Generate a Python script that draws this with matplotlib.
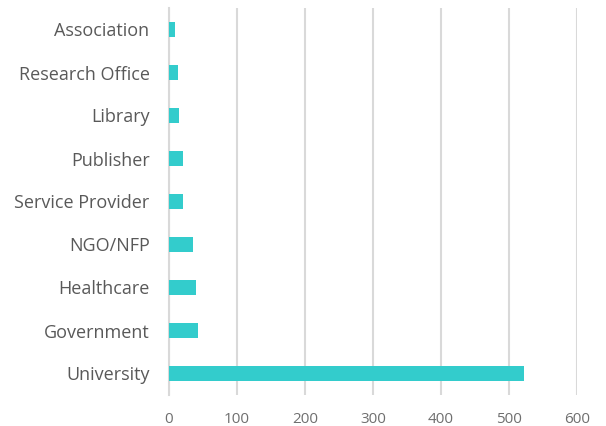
import numpy as np
import matplotlib.pyplot as plt

plt.rcParams['font.family'] = ['Open Sans', 'DejaVu Sans']

categories = ["University", "Government", "Healthcare", "NGO/NFP", "Service Provider",
              "Publisher", "Library", "Research Office", "Association"]
counts = [522, 42, 40, 36, 21, 20, 15, 13, 9]
xticks = [0, 100, 200, 300, 400, 500, 600]

fig = plt.figure(figsize=(6.06, 4.26), dpi=100)
ax = fig.add_axes([169/606, 1 - 395/426, (577 - 169)/606, (395 - 8)/426])

y = np.arange(len(categories))
ax.barh(y, counts, height=0.36, color='#33CCCC', zorder=3)

ax.set_xlim(0, 600)
ax.set_ylim(-0.5, len(categories) - 0.5)
ax.set_xticks(xticks)
ax.set_yticks(y)
ax.set_yticklabels(categories, fontsize=13, color='#595959')
ax.tick_params(axis='x', labelsize=11, labelcolor='#6f6f6f', length=0, pad=12)
ax.tick_params(axis='y', length=0, pad=14)
ax.grid(axis='x', color='#d9d9d9', linewidth=1.5, zorder=0)
for s in ['top', 'right', 'bottom']:
    ax.spines[s].set_visible(False)
ax.spines['left'].set_color('#d9d9d9')
ax.spines['left'].set_linewidth(1.5)

plt.savefig("out.png", dpi=100)
